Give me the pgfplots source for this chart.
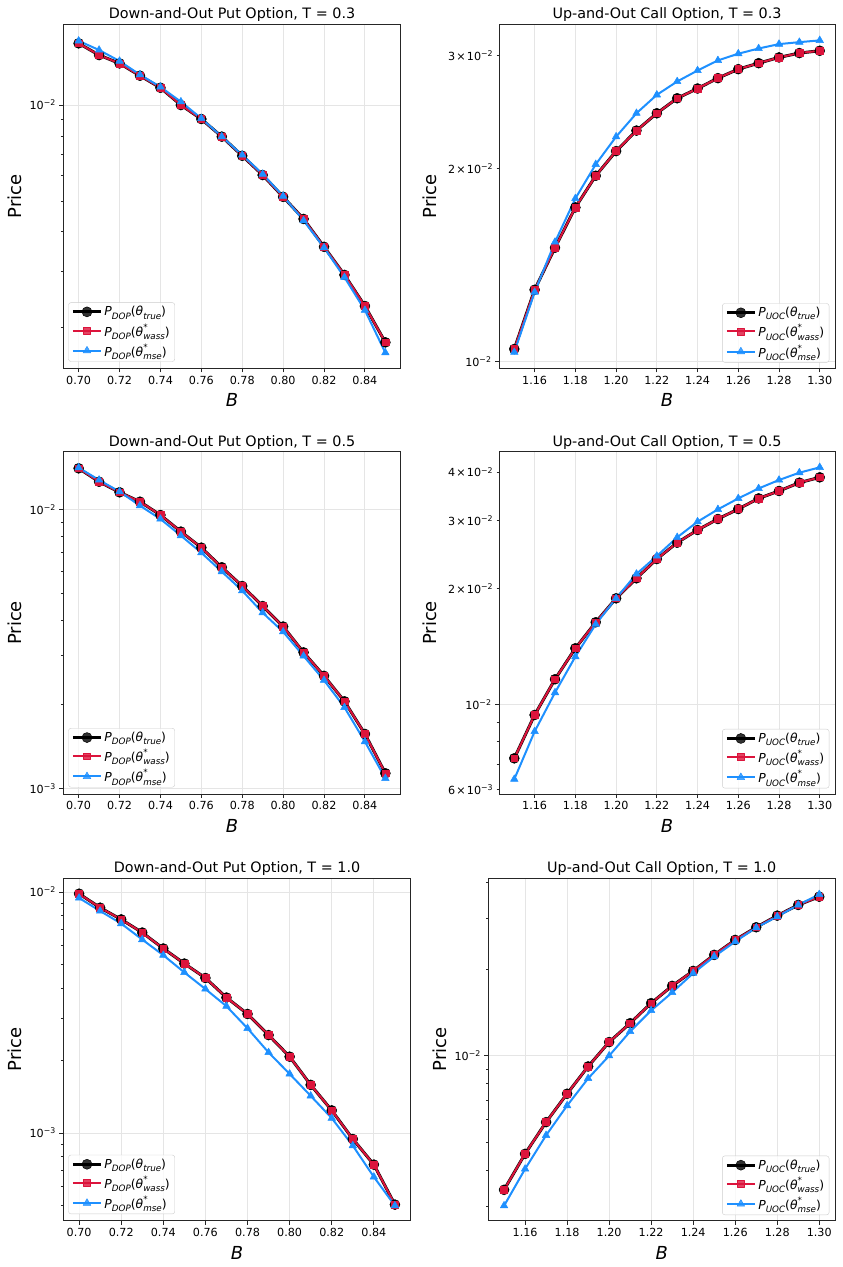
\documentclass[border=0pt]{standalone}
\usepackage{pgfplots}
\usepackage{pgfplotstable}
\pgfplotsset{compat=1.18}
\usepackage{fontspec}
\setmainfont{DejaVu Sans}
\definecolor{crimsonc}{HTML}{DC143C}
\definecolor{dodger}{HTML}{1E90FF}
\newcommand{\tk}{\fontsize{11.2}{13}\selectfont}
\newcommand{\tp}[1]{10\textsuperscript{−#1}}
\newcommand{\sci}[2]{#1\kern1.2bp×\kern1.2bp10\textsuperscript{−#2}}
\newcommand{\scr}{\fontsize{8.8}{9}\selectfont}
\newcommand{\subs}[1]{\raisebox{-3.2bp}{\scr\itshape #1}}
\newcommand{\sups}[1]{\raisebox{6bp}{\scr #1}}
\newcommand{\Pl}[2]{\textit{P}\subs{#1}(\textit{θ}#2)}
\newcommand{\Ptrue}[1]{\Pl{#1}{\subs{true}}}
\newcommand{\Pwass}[1]{\Pl{#1}{\rlap{\sups{*}}\subs{wass}}}
\newcommand{\Pmse}[1]{\Pl{#1}{\rlap{\sups{*}}\subs{mse}}}

\pgfplotstableread{
B true wass mse
0.70 1.562e-2 1.562e-2 1.59e-2
0.71 1.435e-2 1.435e-2 1.488e-2
0.72 1.351e-2 1.351e-2 1.374e-2
0.73 1.236e-2 1.236e-2 1.245e-2
0.74 1.133e-2 1.133e-2 1.14e-2
0.75 1.000e-2 1.000e-2 1.024e-2
0.76 9.04e-3 9.04e-3 9.08e-3
0.77 7.96e-3 7.96e-3 7.96e-3
0.78 6.93e-3 6.93e-3 6.97e-3
0.79 6.03e-3 6.03e-3 6.07e-3
0.80 5.15e-3 5.15e-3 5.18e-3
0.81 4.39e-3 4.39e-3 4.34e-3
0.82 3.59e-3 3.59e-3 3.57e-3
0.83 2.93e-3 2.93e-3 2.88e-3
0.84 2.34e-3 2.34e-3 2.27e-3
0.85 1.80e-3 1.80e-3 1.67e-3
}\dopA
\pgfplotstableread{
B true wass mse
1.15 1.045e-2 1.045e-2 1.033e-2
1.16 1.293e-2 1.293e-2 1.282e-2
1.17 1.504e-2 1.504e-2 1.535e-2
1.18 1.738e-2 1.738e-2 1.795e-2
1.19 1.948e-2 1.948e-2 2.029e-2
1.20 2.128e-2 2.128e-2 2.241e-2
1.21 2.291e-2 2.291e-2 2.438e-2
1.22 2.438e-2 2.438e-2 2.605e-2
1.23 2.573e-2 2.573e-2 2.733e-2
1.24 2.665e-2 2.665e-2 2.843e-2
1.25 2.766e-2 2.766e-2 2.948e-2
1.26 2.857e-2 2.857e-2 3.02e-2
1.27 2.919e-2 2.919e-2 3.077e-2
1.28 2.98e-2 2.98e-2 3.126e-2
1.29 3.027e-2 3.027e-2 3.148e-2
1.30 3.052e-2 3.052e-2 3.168e-2
}\uocA
\pgfplotstableread{
B true wass mse
0.70 1.403e-2 1.403e-2 1.41e-2
0.71 1.256e-2 1.256e-2 1.274e-2
0.72 1.151e-2 1.151e-2 1.157e-2
0.73 1.065e-2 1.065e-2 1.031e-2
0.74 9.54e-3 9.54e-3 9.23e-3
0.75 8.32e-3 8.32e-3 8.05e-3
0.76 7.29e-3 7.29e-3 6.99e-3
0.77 6.20e-3 6.20e-3 5.98e-3
0.78 5.31e-3 5.31e-3 5.11e-3
0.79 4.50e-3 4.50e-3 4.26e-3
0.80 3.80e-3 3.80e-3 3.64e-3
0.81 3.07e-3 3.07e-3 2.98e-3
0.82 2.53e-3 2.53e-3 2.44e-3
0.83 2.05e-3 2.05e-3 1.95e-3
0.84 1.566e-3 1.566e-3 1.47e-3
0.85 1.132e-3 1.132e-3 1.086e-3
}\dopB
\pgfplotstableread{
B true wass mse
1.15 7.24e-3 7.24e-3 6.39e-3
1.16 9.38e-3 9.38e-3 8.50e-3
1.17 1.161e-2 1.161e-2 1.072e-2
1.18 1.397e-2 1.397e-2 1.329e-2
1.19 1.632e-2 1.632e-2 1.613e-2
1.20 1.883e-2 1.883e-2 1.883e-2
1.21 2.122e-2 2.122e-2 2.178e-2
1.22 2.381e-2 2.381e-2 2.424e-2
1.23 2.625e-2 2.625e-2 2.71e-2
1.24 2.832e-2 2.832e-2 2.976e-2
1.25 3.024e-2 3.024e-2 3.203e-2
1.26 3.21e-2 3.21e-2 3.42e-2
1.27 3.42e-2 3.42e-2 3.63e-2
1.28 3.575e-2 3.575e-2 3.817e-2
1.29 3.757e-2 3.757e-2 3.988e-2
1.30 3.879e-2 3.879e-2 4.117e-2
}\uocB
\pgfplotstableread{
B true wass mse
0.70 9.84e-3 9.84e-3 9.45e-3
0.71 8.61e-3 8.61e-3 8.34e-3
0.72 7.70e-3 7.70e-3 7.40e-3
0.73 6.79e-3 6.79e-3 6.35e-3
0.74 5.83e-3 5.83e-3 5.47e-3
0.75 5.05e-3 5.05e-3 4.64e-3
0.76 4.40e-3 4.40e-3 3.96e-3
0.77 3.65e-3 3.65e-3 3.36e-3
0.78 3.12e-3 3.12e-3 2.72e-3
0.79 2.55e-3 2.55e-3 2.16e-3
0.80 2.075e-3 2.075e-3 1.76e-3
0.81 1.585e-3 1.585e-3 1.427e-3
0.82 1.242e-3 1.242e-3 1.153e-3
0.83 9.45e-4 9.45e-4 8.87e-4
0.84 7.40e-4 7.40e-4 6.58e-4
0.85 5.05e-4 5.05e-4 5.0e-4
}\dopC
\pgfplotstableread{
B true wass mse
1.15 3.42e-3 3.42e-3 3.01e-3
1.16 4.56e-3 4.56e-3 4.04e-3
1.17 5.88e-3 5.88e-3 5.29e-3
1.18 7.38e-3 7.38e-3 6.71e-3
1.19 9.18e-3 9.18e-3 8.34e-3
1.20 1.116e-2 1.116e-2 1.0e-2
1.21 1.298e-2 1.298e-2 1.215e-2
1.22 1.524e-2 1.524e-2 1.437e-2
1.23 1.75e-2 1.75e-2 1.66e-2
1.24 1.973e-2 1.973e-2 1.936e-2
1.25 2.243e-2 2.243e-2 2.213e-2
1.26 2.528e-2 2.528e-2 2.494e-2
1.27 2.798e-2 2.798e-2 2.79e-2
1.28 3.071e-2 3.071e-2 3.047e-2
1.29 3.345e-2 3.345e-2 3.345e-2
1.30 3.574e-2 3.574e-2 3.64e-2
}\uocC

\tikzset{
  trueS/.style={black, line width=3bp, line join=round, mark=*, mark size=5bp, mark options={fill=black, line width=0.5bp}},
  wassS/.style={crimsonc, line width=2bp, line join=round, mark=square*, mark size=3.4bp, mark options={fill=crimsonc, line width=0.5bp}},
  mseS/.style={dodger, line width=2bp, line join=round, mark=triangle*, mark size=4.4bp, mark options={fill=dodger, line width=0.5bp}},
}
\pgfplotsset{
  every axis/.append style={
    scale only axis, anchor=north west,
    axis line style={line width=0.9bp, black!85},
    tick align=outside, xtick pos=left, ytick pos=left,
    major tick length=4bp, minor tick length=2.3bp,
    every tick/.style={black!85, line width=0.9bp},
    every minor tick/.style={black!85, line width=0.7bp},
    xmajorgrids, ymajorgrids,
    major grid style={line width=0.9bp, black!10},
    tick label style={font=\tk},
    xlabel={\textit{B}}, ylabel={Price},
    label style={font=\fontsize{18}{20}\selectfont},
    xlabel style={at={([yshift=-38.4bp]axis description cs:0.5,0)}, anchor=base},
    legend cell align=left,
    legend image code/.code={\draw[mark repeat=2,mark phase=2,#1] plot coordinates {(0bp,0bp) (14bp,0bp) (28bp,0bp)};},
    legend style={draw=black!20, rounded corners=2.5bp, fill=white, fill opacity=0.8, text opacity=1,
      font=\fontsize{12.4}{14}\selectfont, row sep=2.2bp, inner xsep=3bp, inner ysep=1.8bp,
      /tikz/every even column/.append style={column sep=1.5bp}},
  },
  every axis title/.style={at={(0.5,1)}, anchor=base, yshift=5.7bp, font=\fontsize{14.4}{16}\selectfont},
}

\begin{document}
\begin{tikzpicture}
\useasboundingbox (0,0) rectangle (843bp,-1267bp);

% Row 1 left
\begin{semilogyaxis}[at={(63.3bp,-24bp)}, width=337.4bp, height=344.3bp,
  xmin=0.6925, xmax=0.8575,
  xtick={0.70,0.72,0.74,0.76,0.78,0.80,0.82,0.84},
  xticklabels={0.70,0.72,0.74,0.76,0.78,0.80,0.82,0.84},
  legend style={at={(axis description cs:0,0)}, anchor=south west, xshift=5bp, yshift=6.6bp},
  ymin=1.492e-3, ymax=1.796e-2,
  ytick={0.01}, yticklabels={\tp{2}},
  minor ytick={0.002,0.003,0.004,0.005,0.006,0.007,0.008,0.009},
  ylabel style={at={([xshift=-41.6bp]axis description cs:0,0.5)}, anchor=base},
  title={Down-and-Out Put Option, T = 0.3}]
\addplot[trueS] table[x=B,y=true]{\dopA};
\addplot[wassS] table[x=B,y=wass]{\dopA};
\addplot[mseS] table[x=B,y=mse]{\dopA};
\legend{\Ptrue{DOP},\Pwass{DOP},\Pmse{DOP}}
\end{semilogyaxis}

% Row 1 right
\begin{semilogyaxis}[at={(499bp,-24bp)}, width=336bp, height=344.3bp,
  xmin=1.1425, xmax=1.3075,
  xtick={1.16,1.18,1.20,1.22,1.24,1.26,1.28,1.30},
  xticklabels={1.16,1.18,1.20,1.22,1.24,1.26,1.28,1.30},
  legend style={at={(axis description cs:1,0)}, anchor=south east, xshift=-5.7bp, yshift=5.7bp},
  ymin=9.75e-3, ymax=3.36e-2,
  ytick={0.01}, yticklabels={\tp{2}},
  extra y ticks={0.02,0.03}, extra y tick labels={\sci{2}{2},\sci{3}{2}},
  extra y tick style={grid=none, major tick length=2.3bp},
  minor ytick={},
  ylabel style={at={([xshift=-63bp]axis description cs:0,0.5)}, anchor=base},
  title={Up-and-Out Call Option, T = 0.3}]
\addplot[trueS] table[x=B,y=true]{\uocA};
\addplot[wassS] table[x=B,y=wass]{\uocA};
\addplot[mseS] table[x=B,y=mse]{\uocA};
\legend{\Ptrue{UOC},\Pwass{UOC},\Pmse{UOC}}
\end{semilogyaxis}

% Row 2 left
\begin{semilogyaxis}[at={(63.3bp,-451.7bp)}, width=337.4bp, height=342.3bp,
  xmin=0.6925, xmax=0.8575,
  xtick={0.70,0.72,0.74,0.76,0.78,0.80,0.82,0.84},
  xticklabels={0.70,0.72,0.74,0.76,0.78,0.80,0.82,0.84},
  legend style={at={(axis description cs:0,0)}, anchor=south west, xshift=5bp, yshift=6.6bp},
  ymin=9.54e-4, ymax=1.609e-2,
  ytick={0.001,0.01}, yticklabels={\tp{3},\tp{2}},
  minor ytick={0.002,0.003,0.004,0.005,0.006,0.007,0.008,0.009},
  ylabel style={at={([xshift=-41.6bp]axis description cs:0,0.5)}, anchor=base},
  title={Down-and-Out Put Option, T = 0.5}]
\addplot[trueS] table[x=B,y=true]{\dopB};
\addplot[wassS] table[x=B,y=wass]{\dopB};
\addplot[mseS] table[x=B,y=mse]{\dopB};
\legend{\Ptrue{DOP},\Pwass{DOP},\Pmse{DOP}}
\end{semilogyaxis}

% Row 2 right
\begin{semilogyaxis}[at={(499bp,-451.7bp)}, width=336bp, height=342.3bp,
  xmin=1.1425, xmax=1.3075,
  xtick={1.16,1.18,1.20,1.22,1.24,1.26,1.28,1.30},
  xticklabels={1.16,1.18,1.20,1.22,1.24,1.26,1.28,1.30},
  legend style={at={(axis description cs:1,0)}, anchor=south east, xshift=-5.7bp, yshift=5.7bp},
  ymin=5.85e-3, ymax=4.52e-2,
  ytick={0.01}, yticklabels={\tp{2}},
  extra y ticks={0.006,0.02,0.03,0.04}, extra y tick labels={\sci{6}{3},\sci{2}{2},\sci{3}{2},\sci{4}{2}},
  extra y tick style={grid=none, major tick length=2.3bp},
  minor ytick={0.007,0.008,0.009},
  ylabel style={at={([xshift=-63bp]axis description cs:0,0.5)}, anchor=base},
  title={Up-and-Out Call Option, T = 0.5}]
\addplot[trueS] table[x=B,y=true]{\uocB};
\addplot[wassS] table[x=B,y=wass]{\uocB};
\addplot[mseS] table[x=B,y=mse]{\uocB};
\legend{\Ptrue{UOC},\Pwass{UOC},\Pmse{UOC}}
\end{semilogyaxis}

% Row 3 left
\begin{semilogyaxis}[at={(63.3bp,-878.3bp)}, width=347.4bp, height=342.4bp,
  xmin=0.6925, xmax=0.8575,
  xtick={0.70,0.72,0.74,0.76,0.78,0.80,0.82,0.84},
  xticklabels={0.70,0.72,0.74,0.76,0.78,0.80,0.82,0.84},
  legend style={at={(axis description cs:0,0)}, anchor=south west, xshift=5bp, yshift=6.6bp},
  ymin=4.33e-4, ymax=1.14e-2,
  ytick={0.001,0.01}, yticklabels={\tp{3},\tp{2}},
  minor ytick={0.0005,0.0006,0.0007,0.0008,0.0009,0.002,0.003,0.004,0.005,0.006,0.007,0.008,0.009},
  ylabel style={at={([xshift=-41.6bp]axis description cs:0,0.5)}, anchor=base},
  title={Down-and-Out Put Option, T = 1.0}]
\addplot[trueS] table[x=B,y=true]{\dopC};
\addplot[wassS] table[x=B,y=wass]{\dopC};
\addplot[mseS] table[x=B,y=mse]{\dopC};
\legend{\Ptrue{DOP},\Pwass{DOP},\Pmse{DOP}}
\end{semilogyaxis}

% Row 3 right
\begin{semilogyaxis}[at={(488.3bp,-878bp)}, width=346.7bp, height=342.7bp,
  xmin=1.1425, xmax=1.3075,
  xtick={1.16,1.18,1.20,1.22,1.24,1.26,1.28,1.30},
  xticklabels={1.16,1.18,1.20,1.22,1.24,1.26,1.28,1.30},
  legend style={at={(axis description cs:1,0)}, anchor=south east, xshift=-5.7bp, yshift=5.7bp},
  ymin=2.67e-3, ymax=4.15e-2,
  ytick={0.01}, yticklabels={\tp{2}},
  minor ytick={0.003,0.004,0.005,0.006,0.007,0.008,0.009,0.02,0.03,0.04},
  ylabel style={at={([xshift=-42.3bp]axis description cs:0,0.5)}, anchor=base},
  title={Up-and-Out Call Option, T = 1.0}]
\addplot[trueS] table[x=B,y=true]{\uocC};
\addplot[wassS] table[x=B,y=wass]{\uocC};
\addplot[mseS] table[x=B,y=mse]{\uocC};
\legend{\Ptrue{UOC},\Pwass{UOC},\Pmse{UOC}}
\end{semilogyaxis}
\end{tikzpicture}
\end{document}
